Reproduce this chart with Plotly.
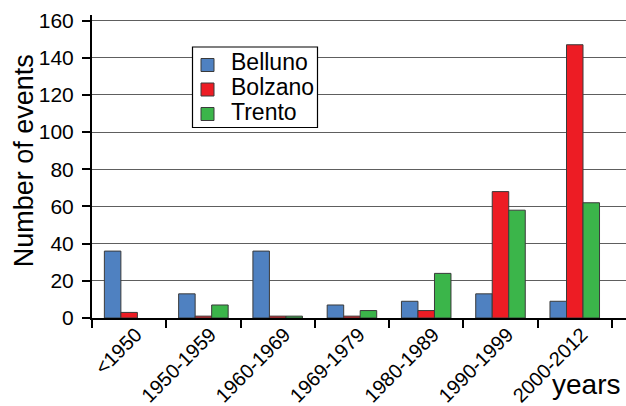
import plotly.graph_objects as go

# Event counts per decade and province
periods = ["<1950", "1950-1959", "1960-1969", "1969-1979", "1980-1989", "1990-1999", "2000-2012"]
belluno = [36, 13, 36, 7, 9, 13, 9]
bolzano = [3, 1, 1, 1, 4, 68, 147]
trento = [0, 7, 1, 4, 24, 58, 62]

provinces = ["Belluno", "Bolzano", "Trento"]
colors = ["#4f81c1", "#ed1c24", "#3bb54a"]
series = [belluno, bolzano, trento]

FONT = "Liberation Sans, Arial, sans-serif"
W, H = 626, 406
L, R, T, B = 92, 0, 15, 88


def px_x(px):
    """Pixel column -> paper x."""
    return (px - L) / (W - L - R)


def px_y(py):
    """Pixel row -> paper y."""
    return (H - B - py) / (H - T - B)


fig = go.Figure()
for name, col, vals in zip(provinces, colors, series):
    # no outline on empty bars so they leave no trace on the axis
    widths = [1 if v > 0 else 0 for v in vals]
    fig.add_trace(go.Bar(name=name, x=periods, y=vals,
                         marker=dict(color=col, line=dict(color="#3a3a3a", width=widths))))

# boxed key in the upper left of the plot
shapes = [dict(type="rect", xref="paper", yref="paper",
               x0=px_x(192.5), x1=px_x(317.5), y0=px_y(47), y1=px_y(127.5),
               fillcolor="white", line=dict(color="black", width=1.2), layer="above")]
annotations = []
row_y = [65, 89.5, 114]
for name, col, cy in zip(provinces, colors, row_y):
    shapes.append(dict(type="rect", xref="paper", yref="paper",
                       x0=px_x(201), x1=px_x(214), y0=px_y(cy - 6.5), y1=px_y(cy + 6.5),
                       fillcolor=col, line=dict(color="#3a3a3a", width=1), layer="above"))
    annotations.append(dict(text=name, xref="paper", yref="paper",
                            x=px_x(229), y=px_y(cy - 2.5), xanchor="left", yanchor="middle",
                            showarrow=False, font=dict(size=23, family=FONT, color="black")))

annotations += [
    dict(text="Number of events", textangle=-90,
         xref="paper", yref="paper", x=0, y=0.517,
         xshift=-68, xanchor="center", yanchor="middle",
         showarrow=False, font=dict(size=27, family=FONT, color="black")),
    dict(text="years", xref="paper", yref="paper",
         x=1, y=0, xshift=-4, yshift=-66,
         xanchor="right", yanchor="middle",
         showarrow=False, font=dict(size=28, family=FONT, color="black")),
]

fig.update_layout(
    width=W, height=H,
    margin=dict(l=L, r=R, t=T, b=B, autoexpand=False),
    paper_bgcolor="white", plot_bgcolor="white",
    barmode="group", bargap=0.333, bargroupgap=0,
    font=dict(family=FONT, color="black"),
    showlegend=False,
    xaxis=dict(
        type="category",
        range=[-0.5, 6.69],
        tickson="boundaries",
        ticks="outside", ticklen=8, tickwidth=2, tickcolor="black",
        showline=True, linecolor="black", linewidth=2,
        showgrid=False, zeroline=False,
        tickangle=-45, automargin=False,
        ticklabelshift=7, ticklabelstandoff=-5,
        tickfont=dict(size=20, family=FONT, color="black"),
    ),
    yaxis=dict(
        range=[0, 163],
        tickvals=[0, 20, 40, 60, 80, 100, 120, 140, 160],
        ticks="outside", ticklen=8, tickwidth=1.5, tickcolor="black",
        ticklabelstandoff=4, automargin=False,
        showline=True, linecolor="black", linewidth=2,
        showgrid=True, gridcolor="#5e5e5e", gridwidth=1.3,
        zeroline=False,
        tickfont=dict(size=21, family=FONT, color="black"),
    ),
    shapes=shapes,
    annotations=annotations,
)

fig.write_html("out.html")
